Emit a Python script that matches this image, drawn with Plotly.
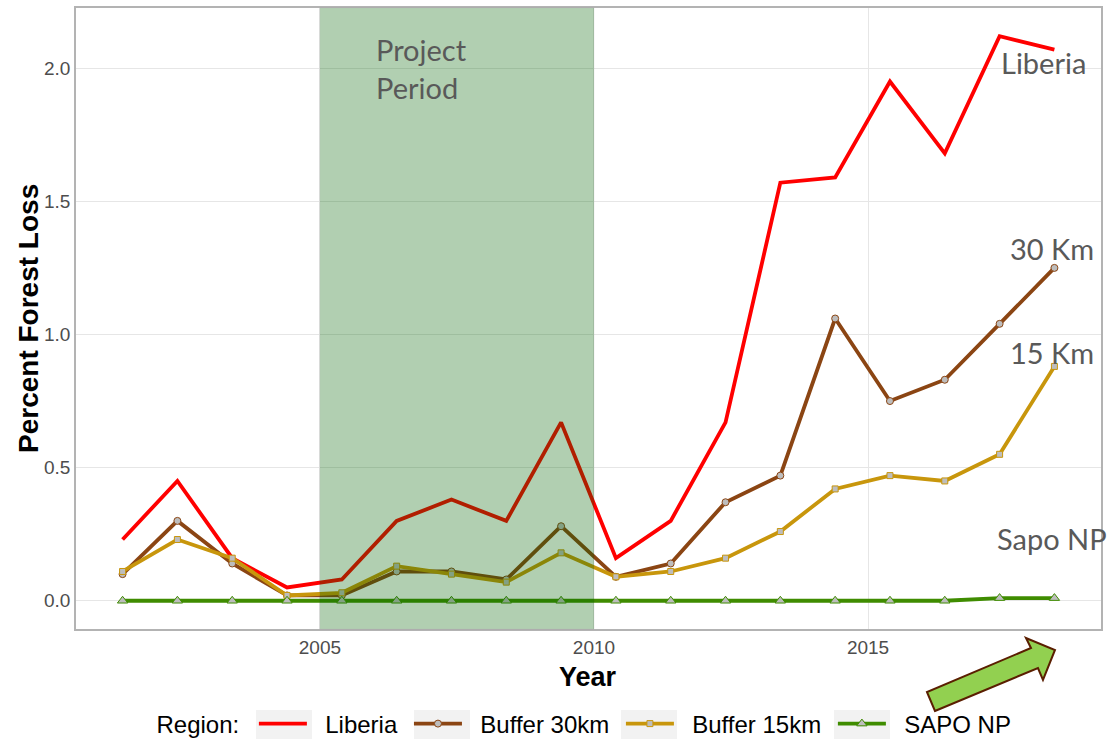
import plotly.graph_objects as go

years = list(range(2001, 2019))
liberia = [0.23, 0.45, 0.16, 0.05, 0.08, 0.30, 0.38, 0.30, 0.67, 0.16, 0.30, 0.67, 1.57, 1.59, 1.95, 1.68, 2.12, 2.07]
buffer30 = [0.10, 0.30, 0.14, 0.02, 0.02, 0.11, 0.11, 0.08, 0.28, 0.09, 0.14, 0.37, 0.47, 1.06, 0.75, 0.83, 1.04, 1.25]
buffer15 = [0.11, 0.23, 0.16, 0.02, 0.03, 0.13, 0.10, 0.07, 0.18, 0.09, 0.11, 0.16, 0.26, 0.42, 0.47, 0.45, 0.55, 0.88]
sapo = [0, 0, 0, 0, 0, 0, 0, 0, 0, 0, 0, 0, 0, 0, 0, 0, 0.01, 0.01]
project_start, project_end = 2005, 2010

# observations are recorded part-way through each year
x = [y + 0.4 for y in years]

W, H = 1110, 743
ML, MR, MT, MB = 76, 9, 8, 114
PW, PH = W - ML - MR, H - MT - MB


def px(xp):
    return (xp - ML) / PW


def py(yp):
    return (H - MB - yp) / PH


fig = go.Figure()

series = [
    ("Liberia", liberia, "#FF0000", None, 0),
    ("Buffer 30km", buffer30, "#8B4513", "circle", 7),
    ("Buffer 15km", buffer15, "#C8960C", "square", 6),
    ("SAPO NP", sapo, "#3F8C00", "triangle-up", 9),
]
for name, vals, col, sym, ms in series:
    if sym is None:
        fig.add_trace(go.Scatter(x=x, y=vals, name="  " + name + " ", mode="lines",
                                 line=dict(color=col, width=3.8)))
    else:
        fig.add_trace(go.Scatter(x=x, y=vals, name="  " + name + " ", mode="lines+markers",
                                 line=dict(color=col, width=3.8),
                                 marker=dict(symbol=sym, size=ms, color="#BDBDBD",
                                             line=dict(color=col, width=1))))

fig.add_shape(type="rect", xref="x", yref="paper", x0=project_start, x1=project_end,
              y0=0, y1=1, fillcolor="#006400", opacity=0.3, line=dict(width=1, color="rgba(0,0,0,0.2)"),
              layer="above")

afont = dict(family="Lato, Open Sans, sans-serif", size=29, color="#595959")
fig.add_annotation(xref="paper", yref="paper", x=px(374), y=py(68), text="Project<br>Period",
                   showarrow=False, xanchor="left", yanchor="middle", align="left", font=afont)
for txt, xr, yc in [("Liberia", 1088, 62), ("30 Km", 1096, 248), ("15 Km", 1096, 352), ("Sapo NP", 1109, 538)]:
    fig.add_annotation(xref="paper", yref="paper", x=px(xr), y=py(yc), text=txt,
                       showarrow=False, xanchor="right", yanchor="middle", font=afont)

# axis titles
fig.add_annotation(xref="paper", yref="paper", x=px(28), y=py(319), text="<b>Percent Forest Loss</b>",
                   textangle=-90, showarrow=False, xanchor="center", yanchor="middle",
                   font=dict(family="Liberation Sans, Arial, sans-serif", size=28, color="black"))
fig.add_annotation(xref="paper", yref="paper", x=px(588), y=py(677), text="<b>Year</b>",
                   showarrow=False, xanchor="center", yanchor="middle",
                   font=dict(family="Liberation Sans, Arial, sans-serif", size=27, color="black"))

arrow = [(935, 711), (1038, 668), (1043, 680), (1055, 650), (1026, 638), (1031, 648), (927, 692)]
path = "M " + " L ".join(f"{px(a):.4f},{py(b):.4f}" for a, b in arrow) + " Z"
fig.add_shape(type="path", xref="paper", yref="paper", path=path,
              fillcolor="#92D050", line=dict(color="#5A1E00", width=2), layer="above")

# grey legend key backgrounds (ggplot style)
for cx in [284, 442, 649, 862]:
    fig.add_shape(type="rect", xref="paper", yref="paper", x0=px(cx - 28), x1=px(cx + 28),
                  y0=py(739), y1=py(710), fillcolor="#F2F2F2", line=dict(width=0), layer="below")

fig.update_layout(
    width=W, height=H,
    margin=dict(l=ML, r=MR, t=MT, b=MB, autoexpand=False),
    plot_bgcolor="white", paper_bgcolor="white",
    font=dict(family="Liberation Sans, Arial, sans-serif"),
    showlegend=True,
    legend=dict(orientation="h", x=0.5, xanchor="center", y=py(724), yanchor="middle",
                bgcolor="rgba(0,0,0,0)",
                title=dict(text="Region: ", font=dict(size=24, color="black")),
                font=dict(size=24, color="black"), itemwidth=48),
    xaxis=dict(range=[2000.55, 2019.25], tickvals=[2005, 2010, 2015], automargin=False,
               showgrid=True, gridcolor="#E6E6E6", gridwidth=1.2,
               tickfont=dict(size=19, color="#4D4D4D"), ticks="", zeroline=False,
               showline=True, linecolor="#B3B3B3", linewidth=1.5, mirror=True),
    yaxis=dict(range=[-0.106, 2.226], tickvals=[0, 0.5, 1.0, 1.5, 2.0], automargin=False,
               ticktext=["0.0", "0.5", "1.0", "1.5", "2.0"],
               showgrid=True, gridcolor="#E6E6E6", gridwidth=1.2,
               tickfont=dict(size=19, color="#4D4D4D"), ticks="", zeroline=False,
               showline=True, linecolor="#B3B3B3", linewidth=1.5, mirror=True),
)

fig.write_html("out.html", config={"displayModeBar": False},
               post_script="document.body.style.margin='0px';")
